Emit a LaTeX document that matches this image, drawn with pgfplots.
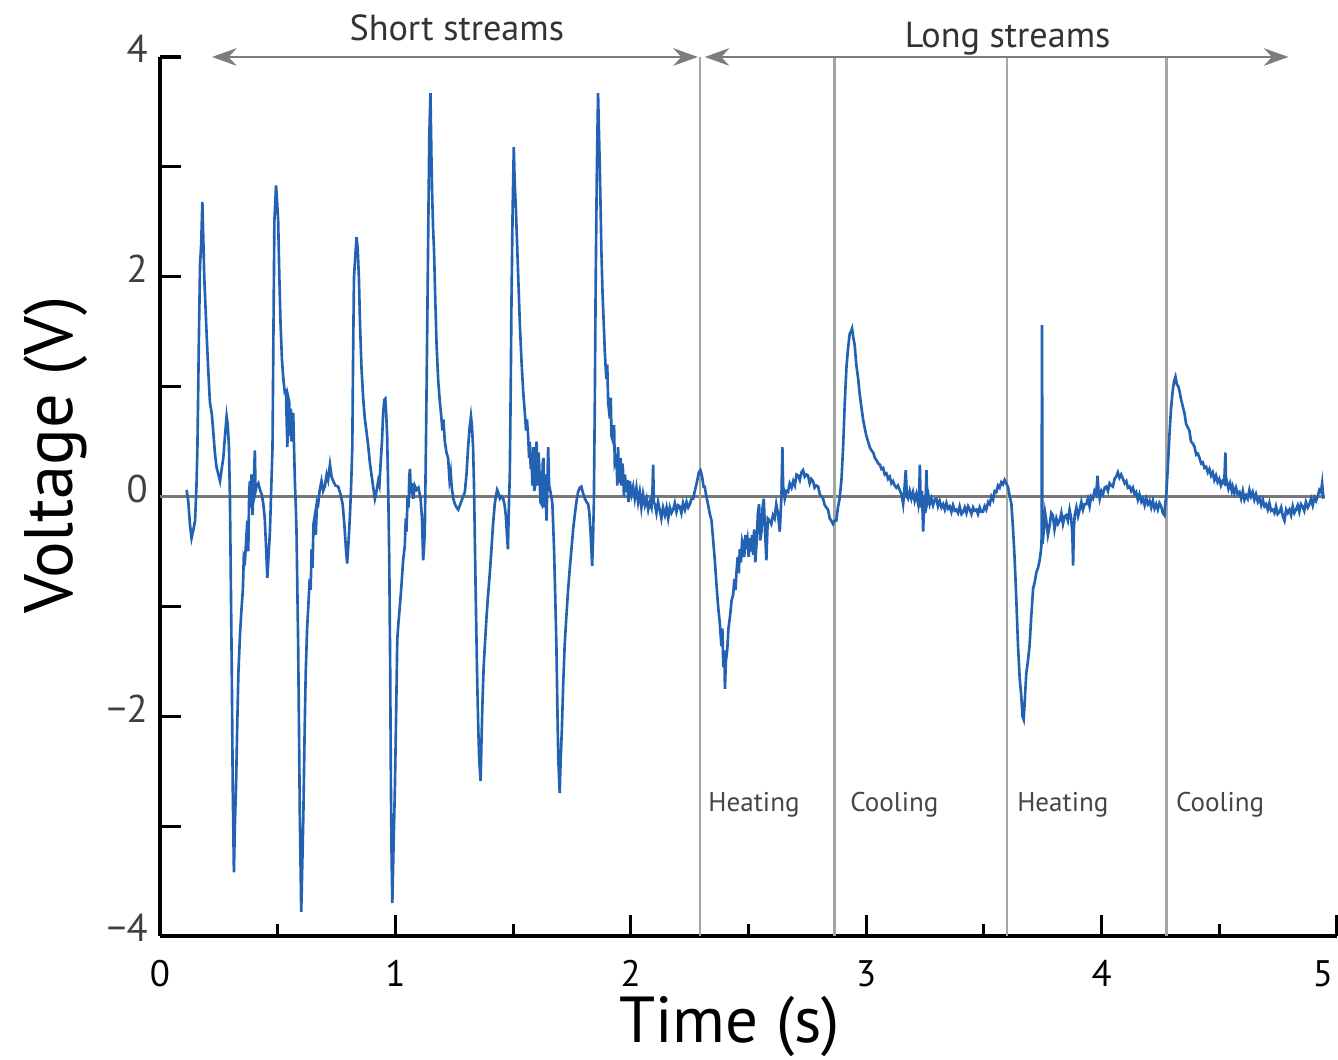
\documentclass[border=0pt]{standalone}
\usepackage{fontspec}
\setmainfont{PT Sans}
\usepackage{pgfplots}
\pgfplotsset{compat=1.18}
\usetikzlibrary{arrows.meta}

\definecolor{sig}{RGB}{35,98,178}
\definecolor{vline}{RGB}{165,165,165}
\definecolor{zline}{RGB}{120,120,120}
\definecolor{arr}{RGB}{125,125,125}
\definecolor{lbl}{RGB}{70,70,70}

\begin{document}
\begin{tikzpicture}
\begin{axis}[
    at={(0,0)}, anchor=south west,
    scale only axis, width=11.77cm, height=8.79cm,
    xmin=0, xmax=5, ymin=-4, ymax=4,
    axis x line=bottom, axis y line=left,
    axis line style={-, line width=0.9pt, black},
    tick align=inside,
    xtick={0,1,2,3,4,5}, xticklabels={0,1,2,3,4,{\hspace*{-0.28cm}5}},
    minor xtick={0.5,1.5,2.5,3.5,4.5},
    ytick={-4,-3,-2,-1,0,1,2,3,4}, yticklabels={−4,,−2,,0,,2,,4},
    major tick length=0.21cm, minor tick length=0.12cm,
    every tick/.style={black, line width=0.9pt},
    xticklabel style={font=\fontsize{10.5}{12}\selectfont, yshift=-0.12cm},
    yticklabel style={font=\fontsize{11}{12}\selectfont, text=black!75, yshift=0.08cm},
    xlabel={Time (s)},
    xlabel style={at={(axis description cs:0.484,0)}, anchor=base, yshift=-1.07cm,
        font=\fontsize{18.5}{22}\selectfont},
    ylabel={Voltage (V)},
    ylabel style={at={(axis description cs:-0.074,0.547)}, anchor=base, rotate=0,
        font=\fontsize{19.5}{24}\selectfont},
    clip=false,
]
% reference lines
\draw[zline, line width=0.6pt] (axis cs:0,0) -- (axis cs:4.95,0);
\draw[vline, line width=0.7pt] (axis cs:2.293,-4) -- (axis cs:2.293,4);
\draw[vline, line width=0.7pt] (axis cs:2.866,-4) -- (axis cs:2.866,4);
\draw[vline, line width=0.7pt] (axis cs:3.599,-4) -- (axis cs:3.599,4);
\draw[vline, line width=0.7pt] (axis cs:4.275,-4) -- (axis cs:4.275,4);

\addplot[sig, line width=0.75pt] table {
x y
0.113 0.06
0.120 -0.04
0.127 -0.25
0.134 -0.38
0.142 -0.30
0.149 -0.22
0.155 0.10
0.159 0.45
0.165 1.40
0.170 2.10
0.175 2.30
0.180 2.68
0.184 2.35
0.188 2.00
0.198 1.48
0.205 1.15
0.212 0.86
0.220 0.75
0.226 0.60
0.233 0.40
0.240 0.27
0.248 0.20
0.255 0.14
0.262 0.25
0.269 0.35
0.276 0.55
0.283 0.73
0.288 0.65
0.293 0.45
0.297 0.00
0.300 -0.58
0.305 -1.60
0.309 -2.64
0.314 -3.42
0.318 -3.00
0.323 -2.64
0.328 -2.10
0.333 -1.61
0.340 -1.25
0.347 -1.00
0.352 -0.85
0.356 -0.55
0.361 -0.58
0.366 -0.40
0.371 -0.22
0.375 -0.50
0.379 0.05
0.382 0.14
0.386 -0.10
0.389 0.20
0.393 -0.17
0.398 0.10
0.403 0.42
0.406 0.05
0.410 0.09
0.418 0.12
0.425 0.06
0.432 0.02
0.439 -0.07
0.445 -0.20
0.450 -0.43
0.456 -0.74
0.461 -0.55
0.467 -0.32
0.473 0.10
0.478 0.45
0.482 1.50
0.486 2.51
0.493 2.83
0.497 2.70
0.502 2.51
0.507 2.00
0.512 1.58
0.518 1.25
0.524 1.07
0.530 0.95
0.535 0.96
0.538 0.70
0.541 0.45
0.545 0.90
0.549 0.86
0.552 0.55
0.556 0.80
0.559 0.50
0.563 0.65
0.566 0.76
0.570 0.40
0.573 0.14
0.577 -0.10
0.580 -0.32
0.587 -1.36
0.594 -2.90
0.600 -3.78
0.605 -3.30
0.609 -2.90
0.614 -2.20
0.619 -1.61
0.625 -1.20
0.630 -1.00
0.636 -0.75
0.640 -0.85
0.644 -0.48
0.648 -0.65
0.652 -0.25
0.658 -0.17
0.662 -0.35
0.667 -0.05
0.672 -0.07
0.678 0.05
0.686 0.14
0.693 0.05
0.700 0.09
0.708 0.20
0.714 0.15
0.722 0.29
0.729 0.18
0.736 0.14
0.745 0.10
0.757 0.09
0.767 0.02
0.776 -0.07
0.783 -0.25
0.790 -0.48
0.795 -0.61
0.800 -0.45
0.807 -0.17
0.812 0.10
0.817 0.45
0.820 1.20
0.824 1.99
0.830 2.20
0.835 2.36
0.840 2.25
0.845 1.99
0.850 1.55
0.856 1.17
0.863 0.90
0.870 0.71
0.878 0.58
0.885 0.45
0.892 0.30
0.899 0.19
0.906 0.08
0.913 -0.02
0.920 0.05
0.927 0.14
0.932 0.10
0.937 0.29
0.943 0.50
0.948 0.76
0.953 0.88
0.957 0.89
0.961 0.75
0.965 0.55
0.970 0.00
0.974 -0.58
0.978 -1.60
0.981 -2.64
0.984 -3.30
0.987 -3.70
0.992 -3.20
0.998 -2.64
1.003 -2.00
1.008 -1.30
1.013 -1.15
1.019 -1.00
1.026 -0.80
1.033 -0.58
1.040 -0.45
1.044 -0.20
1.047 -0.32
1.052 0.00
1.056 -0.10
1.059 0.19
1.062 0.25
1.066 0.02
1.070 0.12
1.076 -0.02
1.082 0.10
1.090 0.06
1.098 0.08
1.107 -0.02
1.113 -0.20
1.118 -0.58
1.122 -0.45
1.125 -0.32
1.130 0.50
1.135 1.48
1.140 2.50
1.144 3.28
1.149 3.67
1.153 3.10
1.156 2.77
1.160 2.45
1.164 2.25
1.170 1.75
1.175 1.38
1.182 1.05
1.189 0.86
1.194 0.75
1.200 0.60
1.204 0.70
1.210 0.50
1.217 0.40
1.224 0.35
1.230 0.15
1.235 0.22
1.239 0.09
1.246 -0.02
1.253 -0.07
1.260 -0.10
1.267 -0.12
1.274 -0.08
1.281 -0.04
1.288 0.00
1.295 0.04
1.302 0.20
1.309 0.45
1.315 0.62
1.321 0.73
1.325 0.65
1.330 0.45
1.334 0.10
1.337 -0.32
1.342 -1.00
1.347 -1.61
1.352 -2.10
1.356 -2.39
1.362 -2.59
1.366 -2.20
1.370 -1.87
1.375 -1.55
1.380 -1.36
1.387 -1.10
1.394 -0.89
1.401 -0.70
1.408 -0.48
1.415 -0.25
1.422 -0.07
1.427 0.00
1.432 0.06
1.438 0.03
1.444 -0.02
1.451 0.00
1.458 -0.02
1.464 -0.08
1.469 -0.17
1.474 -0.35
1.478 -0.48
1.482 -0.10
1.486 0.19
1.490 1.00
1.493 1.74
1.498 2.60
1.503 3.18
1.507 2.85
1.512 2.61
1.517 2.30
1.522 1.99
1.529 1.55
1.536 1.22
1.543 0.95
1.550 0.76
1.555 0.60
1.559 0.70
1.564 0.55
1.568 0.35
1.571 0.50
1.575 0.25
1.578 0.40
1.582 0.10
1.586 0.45
1.590 0.05
1.593 0.09
1.597 0.40
1.600 0.50
1.604 0.10
1.608 0.40
1.611 0.29
1.616 -0.05
1.621 -0.07
1.626 0.30
1.629 0.35
1.632 -0.10
1.636 0.20
1.642 -0.22
1.646 0.15
1.649 0.45
1.653 0.10
1.659 0.04
1.664 -0.02
1.667 -0.07
1.671 -0.30
1.674 -0.48
1.679 -0.90
1.684 -1.36
1.688 -1.90
1.692 -2.39
1.698 -2.70
1.702 -2.40
1.707 -2.13
1.713 -1.70
1.719 -1.36
1.726 -1.10
1.734 -0.84
1.741 -0.65
1.748 -0.48
1.755 -0.30
1.762 -0.17
1.769 -0.05
1.776 0.04
1.783 0.08
1.790 0.09
1.797 0.03
1.805 -0.02
1.812 -0.05
1.819 -0.07
1.824 -0.15
1.829 -0.32
1.833 -0.50
1.836 -0.63
1.840 -0.35
1.843 -0.07
1.847 0.80
1.851 1.99
1.856 3.00
1.861 3.67
1.865 3.30
1.868 3.03
1.872 2.60
1.875 2.25
1.880 1.85
1.885 1.58
1.890 1.30
1.896 1.07
1.900 1.20
1.904 0.85
1.911 0.71
1.915 0.90
1.918 0.55
1.925 0.50
1.929 0.65
1.932 0.30
1.939 0.35
1.943 0.10
1.946 0.45
1.950 0.15
1.953 0.14
1.957 0.35
1.960 0.10
1.964 0.30
1.967 0.24
1.971 0.00
1.975 0.20
1.982 0.04
1.986 0.15
1.990 -0.05
1.996 0.14
2.003 0.02
2.010 0.09
2.017 -0.02
2.024 0.08
2.031 -0.05
2.038 0.04
2.045 -0.10
2.052 0.02
2.060 -0.08
2.067 -0.02
2.074 -0.12
2.081 -0.05
2.088 -0.10
2.092 0.05
2.095 0.29
2.098 -0.05
2.102 -0.07
2.109 -0.15
2.116 -0.05
2.123 -0.12
2.130 -0.20
2.137 -0.10
2.145 -0.17
2.152 -0.10
2.159 -0.20
2.166 -0.10
2.173 -0.15
2.180 -0.12
2.187 -0.06
2.194 -0.14
2.201 -0.08
2.208 -0.09
2.215 -0.15
2.222 -0.06
2.230 -0.12
2.237 -0.05
2.244 -0.10
2.251 -0.07
2.258 -0.02
2.265 -0.02
2.272 0.05
2.282 0.14
2.289 0.22
2.296 0.24
2.303 0.18
2.309 0.09
2.314 0.09
2.321 0.00
2.328 -0.07
2.335 -0.15
2.343 -0.22
2.350 -0.40
2.357 -0.58
2.364 -0.80
2.371 -1.00
2.378 -1.15
2.385 -1.36
2.389 -1.20
2.393 -1.55
2.397 -1.40
2.400 -1.75
2.404 -1.50
2.410 -1.39
2.415 -1.20
2.421 -1.10
2.428 -0.95
2.435 -0.89
2.440 -0.75
2.445 -0.85
2.449 -0.69
2.454 -0.55
2.459 -0.70
2.463 -0.48
2.468 -0.60
2.473 -0.40
2.477 -0.43
2.482 -0.55
2.487 -0.35
2.491 -0.48
2.496 -0.40
2.501 -0.55
2.505 -0.38
2.510 -0.50
2.515 -0.35
2.520 -0.53
2.524 -0.30
2.529 -0.60
2.534 -0.43
2.540 -0.15
2.545 -0.07
2.550 -0.40
2.555 -0.32
2.560 -0.10
2.565 -0.02
2.570 -0.30
2.576 -0.58
2.582 -0.20
2.590 -0.22
2.597 -0.25
2.604 -0.17
2.611 -0.20
2.618 -0.07
2.625 -0.15
2.633 -0.32
2.640 0.00
2.644 0.45
2.647 0.10
2.654 -0.02
2.661 0.05
2.668 0.04
2.675 0.12
2.683 0.08
2.690 0.14
2.697 0.10
2.704 0.20
2.711 0.19
2.718 0.15
2.725 0.22
2.732 0.24
2.739 0.18
2.746 0.20
2.753 0.19
2.760 0.12
2.767 0.16
2.774 0.14
2.781 0.08
2.788 0.10
2.796 0.09
2.803 0.02
2.810 0.00
2.817 -0.02
2.824 -0.08
2.831 -0.10
2.838 -0.12
2.845 -0.20
2.852 -0.22
2.859 -0.25
2.866 -0.22
2.873 -0.22
2.880 -0.10
2.887 -0.02
2.895 0.15
2.902 0.45
2.909 0.85
2.916 1.17
2.923 1.35
2.930 1.48
2.935 1.50
2.940 1.53
2.945 1.45
2.951 1.38
2.958 1.20
2.966 1.07
2.973 0.92
2.980 0.81
2.987 0.70
2.994 0.62
3.001 0.55
3.008 0.50
3.015 0.45
3.022 0.42
3.030 0.40
3.037 0.35
3.044 0.33
3.051 0.30
3.058 0.29
3.065 0.25
3.072 0.26
3.079 0.20
3.086 0.21
3.093 0.16
3.100 0.18
3.107 0.12
3.114 0.14
3.121 0.10
3.128 0.08
3.135 0.10
3.142 0.06
3.150 0.02
3.157 -0.07
3.162 0.05
3.168 0.24
3.173 0.00
3.178 -0.02
3.185 0.05
3.192 -0.02
3.199 0.04
3.206 -0.04
3.213 0.02
3.221 -0.07
3.226 0.10
3.228 0.29
3.232 -0.10
3.237 0.05
3.242 -0.32
3.247 0.00
3.251 -0.15
3.256 0.24
3.260 -0.05
3.265 0.00
3.270 -0.07
3.277 -0.02
3.284 -0.08
3.291 -0.03
3.298 -0.02
3.305 -0.09
3.312 -0.04
3.320 -0.10
3.327 -0.07
3.334 -0.12
3.341 -0.06
3.348 -0.11
3.355 -0.09
3.362 -0.14
3.369 -0.08
3.376 -0.13
3.383 -0.12
3.390 -0.15
3.397 -0.09
3.405 -0.16
3.412 -0.14
3.419 -0.10
3.426 -0.15
3.433 -0.09
3.440 -0.12
3.447 -0.16
3.454 -0.10
3.461 -0.13
3.468 -0.12
3.475 -0.16
3.482 -0.10
3.489 -0.14
3.496 -0.14
3.503 -0.09
3.510 -0.12
3.518 -0.05
3.525 -0.07
3.532 0.00
3.539 -0.03
3.546 0.05
3.553 0.04
3.560 0.10
3.567 0.08
3.574 0.13
3.581 0.11
3.588 0.15
3.595 0.12
3.602 0.09
3.610 0.00
3.617 -0.07
3.624 -0.30
3.631 -0.58
3.638 -0.95
3.645 -1.36
3.652 -1.65
3.659 -1.82
3.664 -2.00
3.669 -2.03
3.674 -1.85
3.680 -1.61
3.687 -1.50
3.694 -1.36
3.701 -1.10
3.709 -0.84
3.716 -0.78
3.723 -0.69
3.730 -0.65
3.737 -0.58
3.742 -0.50
3.745 -0.43
3.747 1.56
3.749 -0.43
3.755 -0.30
3.760 -0.15
3.765 -0.22
3.772 -0.35
3.779 -0.27
3.786 -0.15
3.793 -0.17
3.800 -0.30
3.808 -0.20
3.815 -0.25
3.822 -0.22
3.829 -0.15
3.836 -0.25
3.843 -0.18
3.850 -0.17
3.857 -0.22
3.864 -0.12
3.871 -0.20
3.876 -0.35
3.879 -0.63
3.882 -0.30
3.886 -0.17
3.893 -0.10
3.900 -0.18
3.907 -0.12
3.914 -0.05
3.921 -0.12
3.928 -0.07
3.935 -0.07
3.942 -0.02
3.949 -0.09
3.956 0.00
3.963 -0.02
3.970 0.05
3.977 0.02
3.983 0.19
3.987 0.05
3.992 -0.02
3.999 0.05
4.006 0.02
4.013 0.08
4.020 0.09
4.027 0.05
4.034 0.12
4.041 0.10
4.048 0.09
4.055 0.16
4.062 0.18
4.069 0.22
4.076 0.17
4.083 0.20
4.091 0.16
4.098 0.12
4.105 0.14
4.112 0.08
4.119 0.09
4.126 0.05
4.133 0.08
4.140 0.02
4.147 0.04
4.154 -0.03
4.161 0.02
4.169 -0.05
4.176 -0.02
4.183 -0.08
4.190 -0.02
4.197 -0.07
4.204 -0.04
4.211 -0.10
4.218 -0.04
4.225 -0.11
4.232 -0.07
4.239 -0.12
4.246 -0.06
4.253 -0.09
4.260 -0.15
4.267 -0.17
4.271 -0.05
4.274 -0.02
4.281 0.25
4.288 0.55
4.295 0.80
4.302 0.96
4.308 1.05
4.314 1.09
4.320 1.02
4.326 1.00
4.331 0.96
4.338 0.88
4.345 0.82
4.352 0.76
4.359 0.66
4.366 0.63
4.373 0.60
4.380 0.50
4.388 0.48
4.395 0.45
4.402 0.38
4.409 0.39
4.416 0.35
4.423 0.30
4.430 0.31
4.437 0.26
4.444 0.27
4.451 0.22
4.458 0.25
4.465 0.19
4.472 0.22
4.479 0.15
4.486 0.19
4.493 0.13
4.500 0.16
4.507 0.10
4.514 0.14
4.521 0.12
4.526 0.40
4.529 0.10
4.532 0.14
4.539 0.07
4.546 0.12
4.553 0.05
4.557 0.09
4.564 0.03
4.571 0.08
4.578 0.02
4.586 0.04
4.593 -0.02
4.600 0.05
4.607 -0.03
4.614 0.01
4.621 -0.02
4.628 0.06
4.635 0.00
4.642 0.04
4.649 -0.03
4.656 0.02
4.664 -0.05
4.671 -0.02
4.678 -0.08
4.685 -0.03
4.692 -0.09
4.699 -0.07
4.706 -0.12
4.713 -0.06
4.720 -0.13
4.727 -0.12
4.734 -0.15
4.741 -0.09
4.748 -0.16
4.756 -0.14
4.763 -0.10
4.770 -0.18
4.777 -0.22
4.784 -0.12
4.791 -0.15
4.798 -0.12
4.805 -0.17
4.812 -0.09
4.819 -0.15
4.826 -0.12
4.833 -0.08
4.840 -0.14
4.847 -0.07
4.854 -0.09
4.861 -0.13
4.868 -0.05
4.876 -0.10
4.883 -0.07
4.890 -0.02
4.897 -0.08
4.904 -0.01
4.911 -0.04
4.918 0.00
4.925 0.06
4.932 0.04
4.937 0.12
4.942 -0.02
};

% stream arrows and labels
\draw[arr, line width=0.7pt, {Stealth[length=7pt,width=5pt]}-{Stealth[length=7pt,width=5pt]}]
    (axis cs:0.221,4) -- (axis cs:2.285,4);
\draw[arr, line width=0.7pt, {Stealth[length=7pt,width=5pt]}-{Stealth[length=7pt,width=5pt]}]
    (axis cs:2.314,4) -- (axis cs:4.794,4);
\node[anchor=base, text=black!80, font=\fontsize{10.3}{12}\selectfont] at (axis cs:1.261,4.15) {Short streams};
\node[anchor=base, text=black!80, font=\fontsize{10.3}{12}\selectfont] at (axis cs:3.601,4.086) {Long streams};
\node[anchor=base west, inner sep=0pt, text=lbl, font=\fontsize{7.7}{9}\selectfont] at (axis cs:2.327,-2.87) {Heating};
\node[anchor=base west, inner sep=0pt, text=lbl, font=\fontsize{7.7}{9}\selectfont] at (axis cs:2.930,-2.87) {Cooling};
\node[anchor=base west, inner sep=0pt, text=lbl, font=\fontsize{7.7}{9}\selectfont] at (axis cs:3.639,-2.87) {Heating};
\node[anchor=base west, inner sep=0pt, text=lbl, font=\fontsize{7.7}{9}\selectfont] at (axis cs:4.314,-2.87) {Cooling};
\end{axis}
\pgfresetboundingbox
\path[use as bounding box] (-1.60,-1.24) rectangle (11.78,9.36);
\end{tikzpicture}
\end{document}
